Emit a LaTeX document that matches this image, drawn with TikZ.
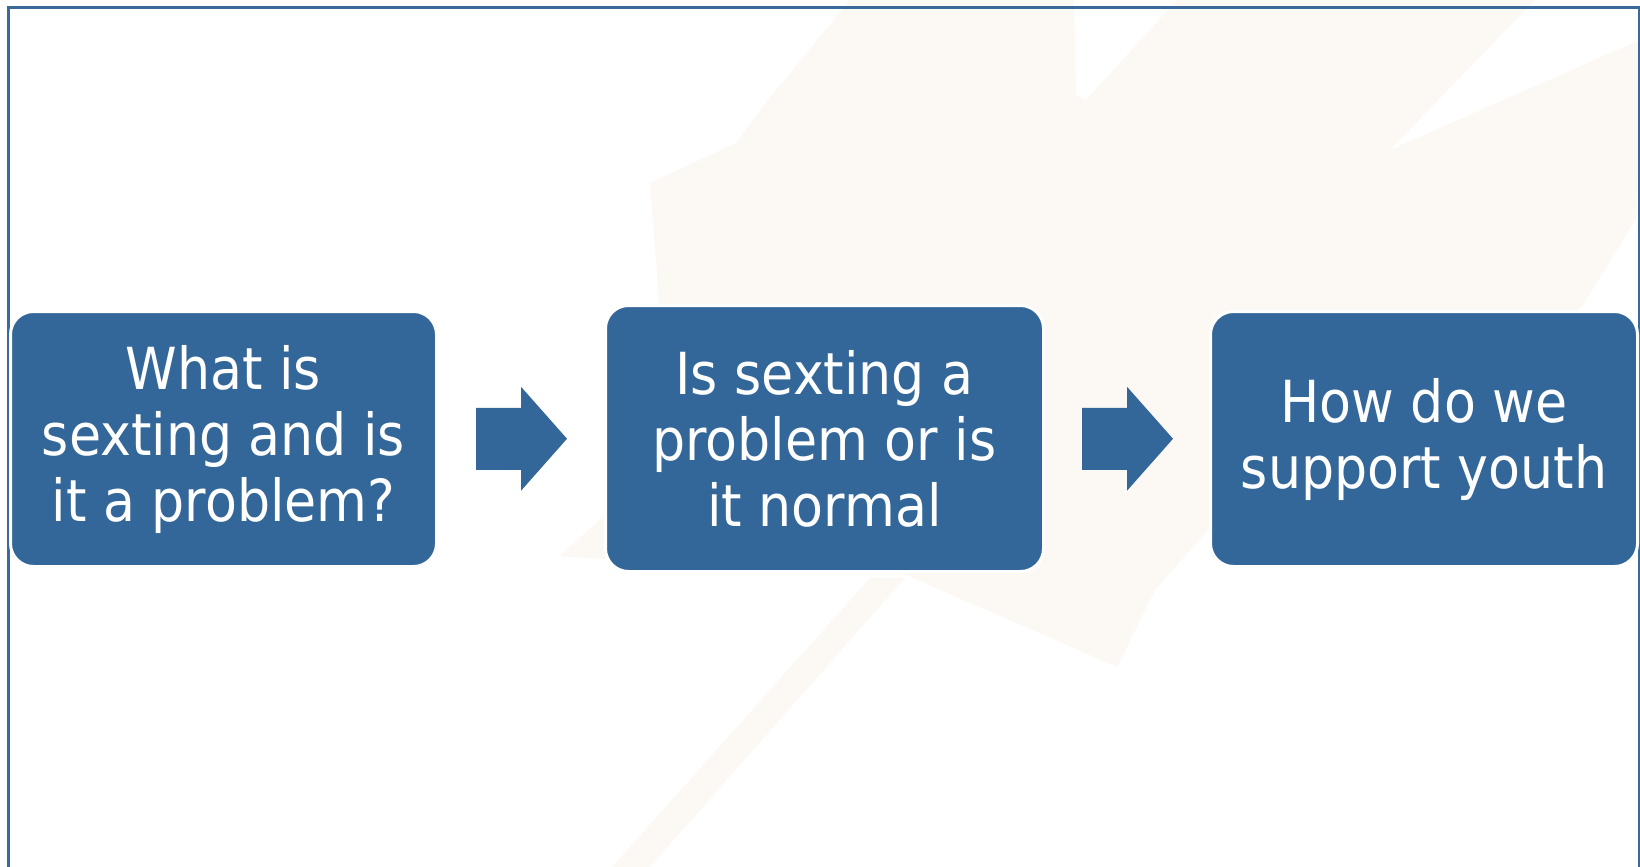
\documentclass[tikz,border=0pt]{standalone}
\usepackage{fontspec}
\setmainfont{DejaVu Sans Condensed}
\usetikzlibrary{calc}
\definecolor{boxblue}{RGB}{52,103,153}
\definecolor{frameblue}{RGB}{58,106,156}
\definecolor{leafbg}{RGB}{252,248,244}
\tikzset{
  stagebox/.style={rounded corners=11.5pt, fill=boxblue, draw=white, line width=1.5pt,
    text=white, align=center, inner sep=0pt, font=\fontsize{29}{33}\selectfont},
}
\newcommand{\stagearrow}[1]{%
  \fill[boxblue] ([shift={(-45,-31)}]#1) -- ([shift={(0,-31)}]#1) -- ([shift={(0,-52)}]#1)
    -- ([shift={(46,0)}]#1) -- ([shift={(0,52)}]#1) -- ([shift={(0,31)}]#1)
    -- ([shift={(-45,31)}]#1) -- cycle;}
\begin{document}
\begin{tikzpicture}[x=0.5pt,y=-0.5pt]
\useasboundingbox (0,0) rectangle (1640,867);
% faint leaf behind the slide
\fill[leafbg] (650,183) -- (736,143) -- (768,100) -- (850,0) -- (1074,0) -- (1076,95)
  -- (1086,100) -- (1177,0) -- (1535,0) -- (1390,150) -- (1640,40) -- (1637,217)
  -- (1582,307) -- (1400,420) -- (1208,530) -- (1155,590) -- (1117,667) -- (902,573)
  -- (700,565) -- (560,556) -- (610,510) -- (665,440) -- (662,340) -- cycle;
\fill[leafbg] (612,867) -- (650,867) -- (905,578) -- (870,578) -- cycle;
% frame
\draw[frameblue, line width=1.5pt] (8,867) -- (8,7) -- (1639,7) -- (1639,867);
\node[stagebox, minimum width=213pt, minimum height=127.5pt] (q1) at (223.5,439)
  {What is\\sexting and is\\it a problem?};
\node[stagebox, minimum width=219pt, minimum height=133pt] (q2) at (824.5,438.5)
  {Is sexting a\\problem or is\\it normal};
\node[stagebox, minimum width=213.5pt, minimum height=127.5pt] (q3) at (1424,439)
  {How do we\\support youth};
\coordinate (m1) at ($(q1.east)!0.5!(q2.west)$);
\coordinate (m2) at ($(q2.east)!0.5!(q3.west)$);
\stagearrow{m1}
\stagearrow{m2}
\end{tikzpicture}
\end{document}
